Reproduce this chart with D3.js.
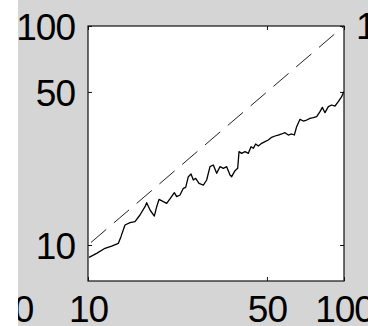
<!DOCTYPE html>
<html>
<head>
<meta charset="utf-8">
<script src="https://cdn.jsdelivr.net/npm/d3@7/dist/d3.min.js"></script>
<style>
  html, body { margin: 0; padding: 0; background: #ffffff; }
  svg { display: block; }
  text { font-family: "Liberation Sans", Arial, sans-serif; }
</style>
</head>
<body>
<svg id="chart" width="368" height="326"></svg>
<script>
// ---- data ----
const xDomain = [10, 100];
const yDomain = [6.85, 100];
const xTicks = [10, 50, 100];
const yTicks = [10, 50, 100];

// measured series (solid)
const seriesX = [10.09, 10.81, 11.65, 12.37, 13.14, 13.45, 13.95, 14.59, 15.26, 15.96,
  16.70, 16.95, 17.47, 18.16, 18.55, 18.94, 19.69, 20.29, 21.10, 21.74,
  22.20, 22.88, 23.57, 24.07, 24.66, 25.26, 25.79, 26.34, 27.14, 28.22,
  29.08, 29.96, 30.87, 31.82, 32.78, 33.78, 34.81, 35.87, 36.41, 37.52,
  38.43, 38.90, 39.84, 41.05, 42.30, 43.33, 44.24, 45.18, 46.27, 47.68,
  49.13, 50.62, 52.16, 53.76, 55.39, 57.07, 58.81, 60.60, 62.44, 63.97,
  65.32, 67.31, 69.36, 71.47, 73.65, 75.89, 78.20, 80.58, 82.29, 84.29,
  86.86, 89.50, 92.22, 95.03, 97.93, 99.70];
const seriesY = [8.78, 9.16, 9.66, 9.89, 10.18, 10.92, 12.34, 12.65, 12.78, 13.71,
  14.96, 15.61, 14.45, 13.56, 14.96, 16.16, 15.77, 15.50, 16.51, 17.34,
  16.62, 16.92, 18.15, 18.34, 20.51, 21.10, 19.81, 20.16, 19.12, 18.79,
  19.81, 22.79, 23.19, 21.25, 22.79, 22.39, 22.79, 20.87, 20.51, 21.85,
  22.39, 26.68, 26.21, 26.68, 26.21, 28.12, 27.63, 28.92, 28.32, 29.12,
  29.64, 30.17, 31.02, 31.46, 31.79, 32.13, 32.58, 31.79, 32.13, 31.79,
  34.70, 37.48, 36.83, 37.22, 37.88, 38.14, 38.55, 40.63, 42.52, 40.20,
  42.82, 43.58, 43.12, 45.13, 47.56, 50.13];

// reference line y = x (dashed)
const refX = [10, 100];
const refY = [10, 100];

// ---- layout ----
const W = 368, H = 326;
const panelLeft = 18;
const plot = { left: 88, right: 344, top: 26, bottom: 281 };
const fontSize = 37;

const svg = d3.select("#chart");

svg.append("defs").append("clipPath").attr("id", "panelClip")
  .append("rect").attr("x", panelLeft).attr("y", 0)
  .attr("width", W - panelLeft).attr("height", H);

const panel = svg.append("g").attr("clip-path", "url(#panelClip)");
panel.append("rect").attr("x", panelLeft).attr("y", 0)
  .attr("width", W - panelLeft).attr("height", H).attr("fill", "#d5d5d5");

const x = d3.scaleLog().domain(xDomain).range([plot.left, plot.right]);
const y = d3.scaleLog().domain(yDomain).range([plot.bottom, plot.top]);

// plot area
panel.append("rect")
  .attr("x", plot.left).attr("y", plot.top)
  .attr("width", plot.right - plot.left).attr("height", plot.bottom - plot.top)
  .attr("fill", "#ffffff");

function styleAxis(g) {
  g.select(".domain").remove();
  g.selectAll(".tick line").attr("stroke", "#111").attr("stroke-width", 1);
  g.selectAll(".tick text")
    .attr("fill", "#000")
    .style("font-size", fontSize + "px")
    .style("letter-spacing", "-1px");
}

// left axis with labels
panel.append("g").attr("transform", `translate(${plot.left},0)`)
  .call(d3.axisLeft(y).tickValues(yTicks).tickFormat(d3.format("d"))
    .tickSizeInner(-4).tickSizeOuter(0).tickPadding(13))
  .call(styleAxis)
  .call(g => g.selectAll(".tick text").attr("dy", "0.36em"));

// right axis ticks
panel.append("g").attr("transform", `translate(${plot.right},0)`)
  .call(d3.axisRight(y).tickValues(yTicks).tickFormat("")
    .tickSizeInner(-4).tickSizeOuter(0))
  .call(styleAxis);

// bottom axis with labels
panel.append("g").attr("transform", `translate(0,${plot.bottom})`)
  .call(d3.axisBottom(x).tickValues(xTicks).tickFormat(d3.format("d"))
    .tickSizeInner(-4).tickSizeOuter(0).tickPadding(15))
  .call(styleAxis);

// top axis ticks
panel.append("g").attr("transform", `translate(0,${plot.top})`)
  .call(d3.axisTop(x).tickValues(xTicks).tickFormat("")
    .tickSizeInner(-4).tickSizeOuter(0))
  .call(styleAxis);

// box
panel.append("rect")
  .attr("x", plot.left).attr("y", plot.top)
  .attr("width", plot.right - plot.left).attr("height", plot.bottom - plot.top)
  .attr("fill", "none").attr("stroke", "#111").attr("stroke-width", 1.2);

// neighbouring panels' labels (clipped)
panel.append("text").attr("x", 4).attr("y", 322)
  .attr("text-anchor", "middle").style("font-size", fontSize + "px")
  .style("letter-spacing", "-1px").text("100");
panel.append("text").attr("x", 356).attr("y", 39)
  .attr("text-anchor", "start").style("font-size", fontSize + "px")
  .style("letter-spacing", "-1px").text("100");

// lines
const plotClip = svg.select("defs").append("clipPath").attr("id", "plotClip")
  .append("rect").attr("x", plot.left).attr("y", plot.top)
  .attr("width", plot.right - plot.left).attr("height", plot.bottom - plot.top);

const lineGen = d3.line().x(d => x(d[0])).y(d => y(d[1]));

const lines = svg.append("g").attr("clip-path", "url(#plotClip)");
lines.append("path")
  .datum(refX.map((v, i) => [v, refY[i]]))
  .attr("d", lineGen)
  .attr("fill", "none").attr("stroke", "#222").attr("stroke-width", 1)
  .attr("stroke-dasharray", "20,10").attr("stroke-dashoffset", -4);

lines.append("path")
  .datum(seriesX.map((v, i) => [v, seriesY[i]]))
  .attr("d", lineGen)
  .attr("fill", "none").attr("stroke", "#000").attr("stroke-width", 1.3)
  .attr("stroke-linejoin", "round");
</script>
</body>
</html>
